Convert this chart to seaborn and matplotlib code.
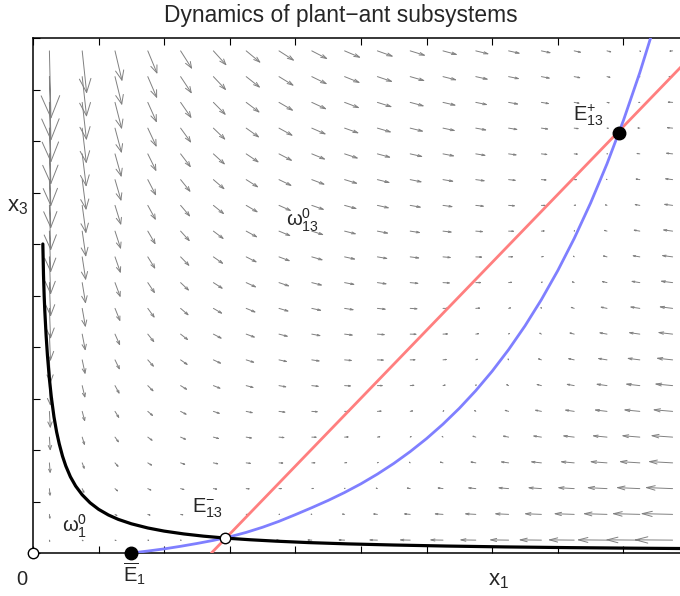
import numpy as np
import pandas as pd
import matplotlib
matplotlib.use("Agg")
import matplotlib.pyplot as plt
import seaborn as sns

# ---------------- data ----------------
# separatrix (black curve)
sep_x = [0.150, 0.160, 0.170, 0.180, 0.200, 0.220, 0.250, 0.280, 0.320, 0.360,
         0.400, 0.450, 0.500, 0.570, 0.650, 0.750, 0.870, 1.00, 1.15, 1.30,
         1.50, 1.75, 2.00, 2.30, 2.60, 2.93, 3.30, 3.70, 4.20, 4.80, 5.50,
         6.30, 7.20, 8.20, 9.20, 10.0]
sep_y = [6.00, 5.40, 5.00, 4.70, 4.22, 3.84, 3.38, 3.02, 2.64, 2.35,
         2.12, 1.88, 1.69, 1.48, 1.30, 1.13, 0.975, 0.848, 0.738, 0.653,
         0.567, 0.486, 0.425, 0.370, 0.327, 0.290, 0.258, 0.230, 0.202, 0.177, 0.155,
         0.135, 0.118, 0.104, 0.093, 0.086]
# x1-nullcline (blue curve)
blue_x = [1.50, 1.75, 2.00, 2.25, 2.50, 2.75, 3.00, 3.25, 3.50, 3.75, 4.00,
          4.25, 4.50, 4.75, 5.00, 5.25, 5.50, 5.75, 6.00, 6.25, 6.50, 6.75,
          7.00, 7.25, 7.50, 7.75, 8.00, 8.25, 8.50, 8.75, 9.00, 9.25, 9.50]
blue_y = [0.000, 0.038, 0.080, 0.130, 0.185, 0.245, 0.315, 0.400, 0.500, 0.615, 0.745,
          0.880, 1.021, 1.175, 1.344, 1.532, 1.739, 1.969, 2.222, 2.502, 2.811, 3.153,
          3.531, 3.949, 4.410, 4.920, 5.484, 6.107, 6.796, 7.557, 8.398, 9.327, 10.35]
# x3-nullcline (red line)
red_x = [2.72, 10.0]
red_y = [0.00, 9.60]
# equilibria: 0, E1, E13-, E13+
eq_x = [0.00, 1.50, 2.93, 8.93]
eq_y = [0.00, 0.00, 0.29, 8.16]
eq_filled = [False, True, False, True]

# vector-field model constants (fitted to the nullclines/arrows above)
K1 = 1.5          # plant carrying capacity (E1)
NULL_A = 2.5      # x1-nullcline: x1 = K1 + NULL_A*ln(1 + x3/NULL_H)
NULL_H = 0.44
RED_SLOPE = 1.318 # x3-nullcline slope
RED_X0 = 2.72     # x3-nullcline x1-intercept
C3 = 3.17
E3 = 0.7
H3 = 6.0
QSCALE = 0.00806
grid_vals = np.arange(0.25, 10.0, 0.5)

# ---------------- style ----------------
sns.set_theme(style="white")
plt.rcParams["font.family"] = ["Liberation Sans", "DejaVu Sans"]
plt.rcParams["mathtext.fontset"] = "custom"
plt.rcParams["mathtext.rm"] = "Liberation Sans"
plt.rcParams["mathtext.it"] = "Liberation Sans:italic"
plt.rcParams["mathtext.bf"] = "Liberation Sans:bold"

fig = plt.figure(figsize=(6.8, 5.96), dpi=100)
ax = fig.add_axes([33 / 680, 43 / 596, 656 / 680, 515 / 596])
ax.set_xlim(0, 10)
ax.set_ylim(0, 10)

# ---------------- quiver field (MATLAB style arrows) ----------------
X, Y = np.meshgrid(grid_vals, grid_vals)
N = K1 + NULL_A * np.log(1 + Y / NULL_H)
U = X * (N - X) * (1 + 0.03 * Y)
V = C3 * Y * (RED_SLOPE * (X - RED_X0) - Y) / ((X + E3) * (1 + Y / H3))
u = (U * QSCALE).ravel()
v = (V * QSCALE).ravel()
x = X.ravel()
y = Y.ravel()
alpha, beta = 0.33, 0.33
nan = np.full_like(x, np.nan)
sx = np.column_stack([x, x + u, nan]).ravel()
sy = np.column_stack([y, y + v, nan]).ravel()
hx = np.column_stack([x + u - alpha * (u + beta * v), x + u,
                      x + u - alpha * (u - beta * v), nan]).ravel()
hy = np.column_stack([y + v - alpha * (v - beta * u), y + v,
                      y + v - alpha * (v + beta * u), nan]).ravel()
ax.plot(sx, sy, color="#808080", lw=0.7, zorder=1)
ax.plot(hx, hy, color="#808080", lw=0.7, zorder=1)

# ---------------- curves ----------------
sns.lineplot(x=red_x, y=red_y, color="#FF7F7F", lw=2.0, sort=False,
             estimator=None, ax=ax, zorder=3)
sns.lineplot(x=blue_x, y=blue_y, color="#7F7FFF", lw=2.0, sort=False,
             estimator=None, ax=ax, zorder=3)
sns.lineplot(x=sep_x, y=sep_y, color="black", lw=2.3, sort=False,
             estimator=None, ax=ax, zorder=4)

# ---------------- equilibria ----------------
for ex, ey, f in zip(eq_x, eq_y, eq_filled):
    if f:
        ax.plot(ex, ey, "o", ms=9, mfc="black", mec="black", mew=1,
                zorder=6, clip_on=False)
    else:
        ax.plot(ex, ey, "o", ms=7.5, mfc="white", mec="black", mew=1,
                zorder=6, clip_on=False)

# ---------------- axes ----------------
ax.set_xticks(range(0, 11))
ax.set_yticks(range(0, 11))
ax.set_xticklabels([])
ax.set_yticklabels([])
ax.tick_params(direction="in", length=5, width=0.8, top=True, right=True,
               bottom=True, left=True, color="black")
for s in ax.spines.values():
    s.set_color("black")
    s.set_linewidth(1.1)
ax.grid(False)
ax.set_xlabel("")
ax.set_ylabel("")

# ---------------- texts ----------------
fs = 14.5
fig.text(341 / 680, 1 - 22 / 596, "Dynamics of plant\u2212ant subsystems",
         ha="center", va="baseline", fontsize=16.4)
ax.text(-0.17, -0.62, "0", ha="center", va="baseline", fontsize=fs, clip_on=False)
ax.text(6.94, -0.62, r"$\mathrm{x}_1$", ha="left", va="baseline", fontsize=16,
        clip_on=False)
ax.text(-0.40, 6.63, r"$\mathrm{x}_3$", ha="left", va="baseline", fontsize=16,
        clip_on=False)
ax.text(8.23, 8.39, r"$\mathrm{E}^{+}_{13}$", ha="left", va="baseline", fontsize=fs)
ax.text(2.42, 0.78, r"$\mathrm{E}^{-}_{13}$", ha="left", va="baseline", fontsize=fs)
ax.text(1.37, -0.56, r"$\overline{\mathrm{E}}_{1}$", ha="left", va="baseline",
        fontsize=fs, clip_on=False)
ax.text(3.86, 6.35, r"$\mathrm{\omega}^{0}_{13}$", ha="left", va="baseline", fontsize=fs)
ax.text(0.44, 0.41, r"$\mathrm{\omega}^{0}_{1}$", ha="left", va="baseline", fontsize=fs)

fig.savefig("out.png", dpi=100)
